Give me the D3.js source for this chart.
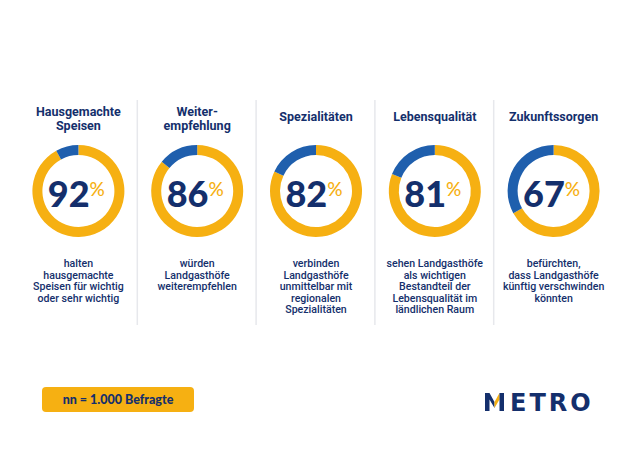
<!DOCTYPE html>
<meta charset="utf-8">
<head>
<style>
body { margin: 0; background: #ffffff; }
svg { display: block; }
</style>
</head>
<script src="https://d3js.org/d3.v7.min.js"></script>
<div id="chart"></div>
<script>

// survey results (share of respondents, %)
var titles = [
  ["Hausgemachte", "Speisen"],
  ["Weiter-", "empfehlung"],
  ["Spezialitäten"],
  ["Lebensqualität"],
  ["Zukunftssorgen"]
];
var values = [92, 86, 82, 81, 67];
var descriptions = [
  ["halten", "hausgemachte", "Speisen für wichtig", "oder sehr wichtig"],
  ["würden", "Landgasthöfe", "weiterempfehlen"],
  ["verbinden", "Landgasthöfe", "unmittelbar mit", "regionalen", "Spezialitäten"],
  ["sehen Landgasthöfe", "als wichtigen", "Bestandteil der", "Lebensqualität im", "ländlichen Raum"],
  ["befürchten,", "dass Landgasthöfe", "künftig verschwinden", "könnten"]
];
var sampleNote = "nn = 1.000 Befragte";

var W = 630, H = 455;
var navy = "#142f6c", yellow = "#f6b012", blue = "#1f5fad";

var svg = d3.select("#chart").append("svg")
  .attr("width", W).attr("height", H);

// one column per topic
var x = d3.scaleBand()
  .domain(d3.range(values.length))
  .range([19, 613])
  .padding(0);

// separators between columns
svg.append("g").selectAll("line")
  .data(d3.range(1, values.length))
  .enter().append("line")
    .attr("x1", function(i) { return x(i) - 0.5; })
    .attr("x2", function(i) { return x(i) - 0.5; })
    .attr("y1", 100).attr("y2", 325)
    .attr("stroke", "#e7e8ec").attr("stroke-width", 1.5);

var pie = d3.pie().sort(null).value(function(d) { return d; });
var arc = d3.arc().innerRadius(36).outerRadius(46);

var cols = svg.append("g").selectAll("g.col")
  .data(values)
  .enter().append("g")
    .attr("class", "col")
    .attr("transform", function(d, i) { return "translate(" + (x(i) + x.bandwidth() / 2) + ",0)"; });

// titles
cols.each(function(d, i) {
  var g = d3.select(this);
  var lines = titles[i];
  var y0 = lines.length === 1 ? 121 : 116;
  lines.forEach(function(t, k) {
    g.append("text")
      .attr("x", 0).attr("y", y0 + k * 13.5)
      .attr("text-anchor", "middle")
      .style("font-family", "Roboto, 'Open Sans', sans-serif")
      .style("font-weight", 700)
      .style("font-size", "12.5px")
      .style("fill", navy)
      .text(t);
  });
});

// donuts
cols.each(function(d, i) {
  var g = d3.select(this).append("g").attr("transform", "translate(0,191)");
  g.selectAll("path")
    .data(pie([d, 100 - d]))
    .enter().append("path")
      .attr("d", arc)
      .attr("fill", function(p, k) { return k === 0 ? yellow : blue; });

  var t = g.append("text")
    .attr("text-anchor", "middle")
    .attr("y", 16)
    .attr("dx", -2)
    .style("font-family", "Lato, Roboto, sans-serif")
    .style("font-weight", 900)
    .style("font-size", "36px")
    .style("fill", navy);
  t.append("tspan").text(d);
  t.append("tspan")
    .attr("dy", -11)
    .style("font-size", "19px")
    .style("font-weight", 500)
    .style("fill", yellow)
    .text("%");
});

// descriptions
cols.each(function(d, i) {
  var g = d3.select(this);
  descriptions[i].forEach(function(t, k) {
    g.append("text")
      .attr("x", 0).attr("y", 267 + k * 11.6)
      .attr("text-anchor", "middle")
      .style("font-family", "Roboto, sans-serif")
      .style("font-weight", 500)
      .style("font-size", "10.6px")
      .style("fill", navy)
      .text(t);
  });
});

// sample size badge
svg.append("rect")
  .attr("x", 42).attr("y", 387)
  .attr("width", 152).attr("height", 25)
  .attr("rx", 4)
  .attr("fill", yellow);
svg.append("text")
  .attr("x", 118).attr("y", 404)
  .attr("text-anchor", "middle")
  .style("font-family", "Lato, Roboto, sans-serif")
  .style("font-weight", 900)
  .style("font-size", "12.5px")
  .style("fill", navy)
  .text(sampleNote);

// METRO logo
var logo = svg.append("g").attr("transform", "translate(485,393)");
// M: left half navy, right diagonal yellow
logo.append("path")
  .attr("d", "M0,18 L0,0 L4.5,0 L9.5,9 L9.5,15 L4.5,6.5 L4.5,18 Z")
  .attr("fill", navy);
logo.append("path")
  .attr("d", "M9.5,9 L14.5,0 L14.5,6.5 L9.5,15 Z")
  .attr("fill", yellow);
logo.append("path")
  .attr("d", "M14.5,0 L19,0 L19,18 L14.5,18 Z")
  .attr("fill", navy);
logo.append("text")
  .attr("x", 25).attr("y", 17.5)
  .style("font-family", "'DejaVu Sans', sans-serif")
  .style("font-weight", 700)
  .style("font-size", "24px")
  .style("letter-spacing", "3px")
  .style("fill", navy)
  .text("ETRO");

</script>
